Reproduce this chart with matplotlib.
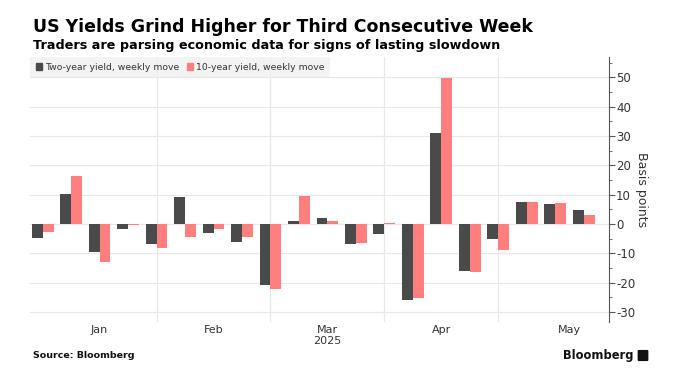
import numpy as np
import pandas as pd
import matplotlib
matplotlib.use("Agg")
import matplotlib.pyplot as plt
from matplotlib.patches import Patch, FancyBboxPatch

# Daten (Wochenveraenderung in Basispunkten, Freitagswerte)
wochen = ["2025-01-03", "2025-01-10", "2025-01-17", "2025-01-24", "2025-01-31",
          "2025-02-07", "2025-02-14", "2025-02-21", "2025-02-28", "2025-03-07",
          "2025-03-14", "2025-03-21", "2025-03-28", "2025-04-04", "2025-04-11",
          "2025-04-18", "2025-04-25", "2025-05-02", "2025-05-09", "2025-05-16"]
zwei_jahre = [-4.8, 10.1, -9.5, -1.6, -6.7, 9.3, -3.0, -6.0, -20.8, 1.1,
              1.9, -6.7, -3.5, -25.8, 30.9, -16.0, -5.0, 7.6, 6.8, 4.9]
zehn_jahre = [-2.6, 16.3, -13.1, -0.5, -8.1, -4.3, -1.6, -4.4, -22.2, 9.4,
              1.1, -6.4, 0.5, -25.3, 49.7, -16.4, -8.8, 7.6, 7.3, 3.1]
monate = ["Jan", "Feb", "Mar\n2025", "Apr", "May"]
y_ticks = [-30, -20, -10, 0, 10, 20, 30, 40, 50]

titel = "US Yields Grind Higher for Third Consecutive Week"
untertitel = "Traders are parsing economic data for signs of lasting slowdown"
legende = ["Two-year yield, weekly move", "10-year yield, weekly move"]

farbe_dunkel = "#4a4a4a"
farbe_rosa = "#ff7f7f"
text_farbe = "#333333"
gitter = "#e8e8e8"

datum = pd.to_datetime(wochen)
x = np.arange(len(wochen))

# Trennlinien: letzte Woche jedes Monats
trenner = [i for i in range(len(datum) - 1) if datum[i].month != datum[i + 1].month]
grenzen = [0] + trenner + [len(wochen) + 1]
label_pos = [(grenzen[i] + grenzen[i + 1]) / 2 for i in range(len(monate))]

fig = plt.figure(figsize=(6.82, 3.74), dpi=100)
ax = fig.add_axes([30 / 682, 1 - 322 / 374, 579 / 682, 265 / 374])

breite = 0.385
ax.bar(x - breite / 2, zwei_jahre, width=breite, color=farbe_dunkel, zorder=3)
ax.bar(x + breite / 2, zehn_jahre, width=breite, color=farbe_rosa, zorder=3)

ax.set_xlim(-0.44, 19.88)
ax.set_ylim(-33.4, 56.9)

for t in y_ticks:
    ax.axhline(t, color=gitter, lw=0.9, zorder=1)
for t in trenner:
    ax.axvline(t, color=gitter, lw=0.9, zorder=1)

for s in ["top", "left", "bottom"]:
    ax.spines[s].set_visible(False)
ax.spines["right"].set_color("#555555")
ax.spines["right"].set_linewidth(0.8)

ax.yaxis.tick_right()
ax.yaxis.set_label_position("right")
ax.set_yticks(y_ticks)
ax.set_yticklabels([str(t) for t in y_ticks])
ax.set_yticks(np.arange(-30, 56, 5), minor=True)
ax.tick_params(axis="y", which="major", length=4, width=0.8, color="#555555",
               labelsize=8.5, labelcolor=text_farbe, pad=1)
ax.tick_params(axis="y", which="minor", length=2, width=0.6, color="#555555")
ax.set_ylabel("Basis points", rotation=270, fontsize=9, color=text_farbe, labelpad=9)

ax.set_xticks(label_pos)
ax.set_xticklabels(monate, fontsize=8, color=text_farbe, linespacing=1.1)
ax.tick_params(axis="x", length=0, pad=2)

# Legende mit grauem Hintergrund
griffe = [Patch(color=farbe_dunkel), Patch(color=farbe_rosa)]
leg = ax.legend(griffe, legende, loc="upper left", bbox_to_anchor=(0.0, 1.0),
                ncol=2, frameon=True, fontsize=6.7, handlelength=0.7, handleheight=0.7,
                handletextpad=0.3, columnspacing=0.8, borderaxespad=0.0,
                borderpad=0.6, fancybox=False)
leg.get_frame().set_facecolor("#f0f0f0")
leg.get_frame().set_edgecolor("none")
for t in leg.get_texts():
    t.set_color(text_farbe)
leg.set_zorder(5)

fig.text(33 / 682, 1 - 27 / 374, titel, fontsize=12.5, fontweight="bold",
         color="black", va="center", ha="left")
fig.text(33 / 682, 1 - 46 / 374, untertitel, fontsize=9.2, fontweight="bold",
         color="black", va="center", ha="left")
fig.text(33 / 682, 1 - 356 / 374, "Source: Bloomberg", fontsize=6.8,
         fontweight="bold", color="#111111", va="center", ha="left")
fig.text(634 / 682, 1 - 355 / 374, "Bloomberg", fontsize=8.3, fontweight="bold",
         color="#111111", va="center", ha="right")
fig.patches.append(FancyBboxPatch((639 / 682, 1 - 360 / 374), 8 / 682, 9 / 374,
                                  boxstyle="round,pad=0.001", transform=fig.transFigure,
                                  color="#111111", figure=fig))

fig.savefig("out.png", dpi=100)
